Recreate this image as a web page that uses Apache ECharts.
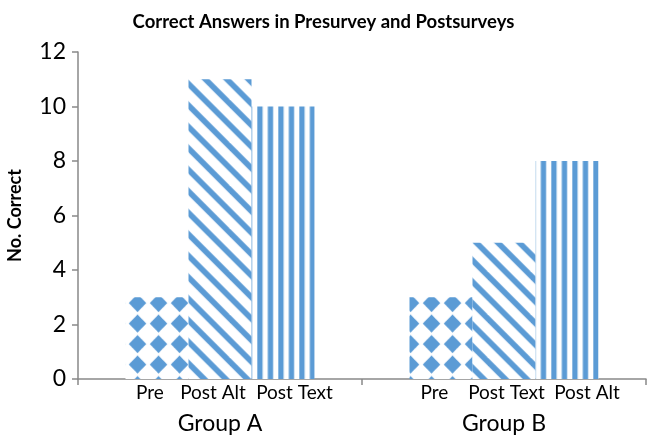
<!DOCTYPE html>
<html><head><meta charset="utf-8">
<script src="https://cdn.jsdelivr.net/npm/echarts@6/dist/echarts.min.js"></script>
<style>html,body{margin:0;padding:0;background:#fff}#c{width:647px;height:437px}</style>
</head><body><div id="c"></div>
<script>
// ---- data ----
const groups = ['Group A', 'Group B'];
const groupAValues = [3, 11, 10];
const groupBValues = [3, 5, 8];
const groupALabels = ['Pre', 'Post Alt', 'Post Text'];
const groupBLabels = ['Pre', 'Post Text', 'Post Alt'];
const yMin = 0, yMax = 12, yStep = 2;

// ---- styles ----
const BLUE = '#5B9BD5';
const FONT = 'Lato, "Open Sans", sans-serif';
// horizontal nudges of the bar sub-labels (pixels), [group][bar]
const labelShift = [[-7, -7, 11.5], [-6.5, 2.5, 20]];

function diamondPattern() {
  const c = document.createElement('canvas');
  c.width = 21; c.height = 41;
  const g = c.getContext('2d');
  g.fillStyle = '#fff'; g.fillRect(0, 0, 21, 41);
  g.fillStyle = BLUE;
  [[10.5, 10.25], [10.5, 30.75]].forEach(([cx, cy]) => {
    g.beginPath();
    g.moveTo(cx, cy - 9); g.lineTo(cx + 8.8, cy); g.lineTo(cx, cy + 9); g.lineTo(cx - 8.8, cy);
    g.closePath(); g.fill();
  });
  return { image: c, repeat: 'repeat', x: 1, y: 5.75 };
}
function diagonalPattern() {
  const S = 43, P = 21.5, w = 8;
  const c = document.createElement('canvas');
  c.width = S; c.height = S;
  const g = c.getContext('2d');
  g.fillStyle = '#fff'; g.fillRect(0, 0, S, S);
  g.fillStyle = BLUE;
  for (let k = -6; k <= 6; k++) {
    const c0 = k * P;
    g.beginPath();
    g.moveTo(c0 - 50, -50); g.lineTo(c0 + w - 50, -50);
    g.lineTo(c0 + w + 100, 100); g.lineTo(c0 + 100, 100);
    g.closePath(); g.fill();
  }
  return { image: c, repeat: 'repeat', x: 14.7, y: 0 };
}
function verticalPattern() {
  const c = document.createElement('canvas');
  c.width = 21; c.height = 4;
  const g = c.getContext('2d');
  g.fillStyle = '#fff'; g.fillRect(0, 0, 21, 4);
  g.fillStyle = BLUE;
  g.fillRect(0, 0, 5.3, 4);
  g.fillRect(10.5, 0, 5.3, 4);
  return { image: c, repeat: 'repeat', x: 5.3, y: 0 };
}
const patterns = [diamondPattern(), diagonalPattern(), verticalPattern()];
const subLabels = [groupALabels, groupBLabels];

const chart = echarts.init(document.getElementById('c'), null, { renderer: 'canvas' });
const series = [0, 1, 2].map(i => ({
  type: 'bar',
  silent: true,
  barWidth: 63,
  barGap: '0%',
  data: [groupAValues[i], groupBValues[i]].map((v, gi) => ({
    value: v,
    label: { offset: [labelShift[gi][i], 0] }
  })),
  itemStyle: { color: patterns[i] },
  label: {
    show: true, position: 'bottom', distance: 4,
    fontFamily: FONT, fontSize: 19, color: '#000',
    formatter: p => subLabels[p.dataIndex][i]
  }
}));

chart.setOption({
  animation: false,
  title: {
    text: 'Correct Answers in Presurvey and Postsurveys',
    left: 'center', top: 8,
    textStyle: { fontFamily: FONT, fontSize: 18.5, fontWeight: 'bold', color: '#000' }
  },
  grid: { left: 78, right: 1, top: 52, bottom: 58, containLabel: false, outerBoundsMode: 'none' },
  xAxis: {
    type: 'category', data: groups,
    axisLine: { lineStyle: { color: '#898989', width: 1.5 } },
    axisTick: { show: true, length: 6, lineStyle: { color: '#898989', width: 1.5 } },
    axisLabel: { margin: 33, fontFamily: FONT, fontSize: 23, color: '#000' }
  },
  yAxis: {
    type: 'value', min: yMin, max: yMax, interval: yStep,
    name: 'No. Correct', nameLocation: 'middle', nameGap: 54,
    nameTextStyle: { fontFamily: FONT, fontSize: 18, fontWeight: 'bold', color: '#000' },
    splitLine: { show: false },
    axisLine: { show: true, lineStyle: { color: '#898989', width: 1.5 } },
    axisTick: { show: true, length: 6, lineStyle: { color: '#898989', width: 1.5 } },
    axisLabel: { margin: 12, fontFamily: FONT, fontSize: 23, color: '#000' }
  },
  series: series
});
</script>
</body></html>
